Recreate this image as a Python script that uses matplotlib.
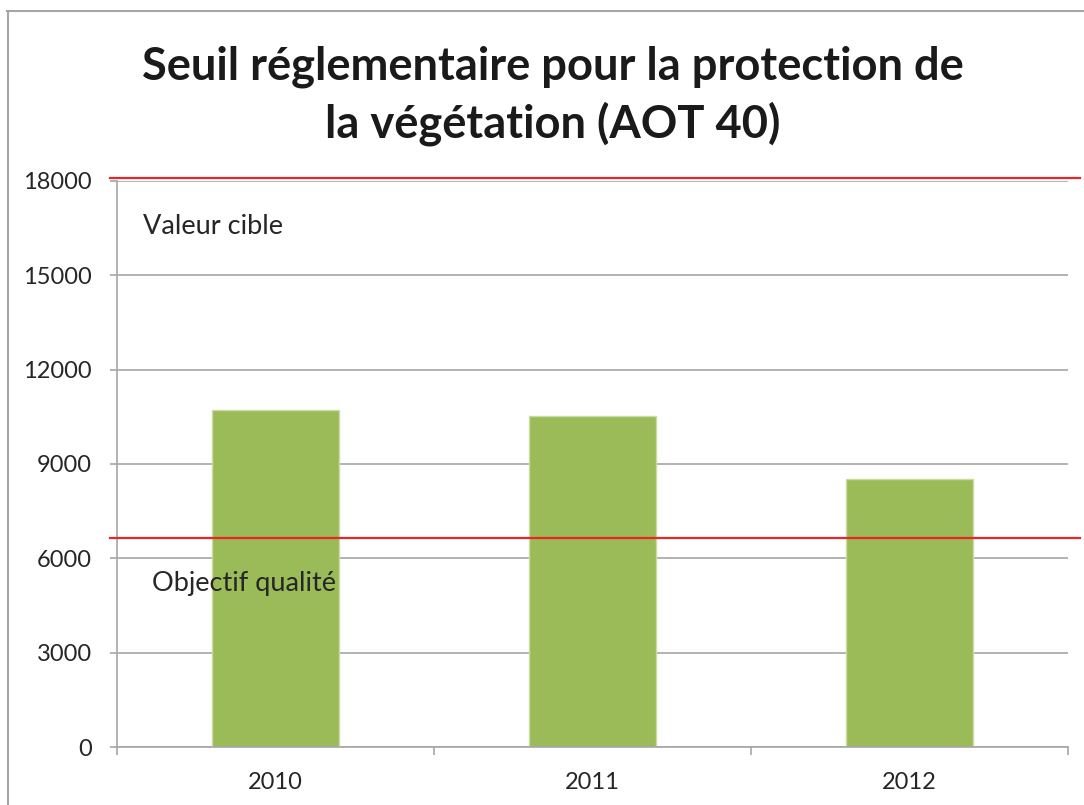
import matplotlib
matplotlib.use("Agg")
import matplotlib.pyplot as plt
from matplotlib.lines import Line2D
from matplotlib.ticker import FixedLocator, NullFormatter

# ---- data ----
years = ["2010", "2011", "2012"]
aot40 = [10720, 10530, 8520]
valeur_cible = 18100
objectif_qualite = 6640
y_ticks = [0, 3000, 6000, 9000, 12000, 15000, 18000]
title_lines = ["Seuil réglementaire pour la protection de", "la végétation (AOT 40)"]
label_cible = "Valeur cible"
label_objectif = "Objectif qualité"

plt.rcParams['font.family'] = ['Lato', 'DejaVu Sans']

W, H = 1084, 805
fig = plt.figure(figsize=(W / 100, H / 100), dpi=100)
fig.patch.set_facecolor('white')

ax = fig.add_axes([117 / W, 1 - 747 / H, (1068 - 117) / W, (747 - 181) / H])

grey = '#A6A6A6'
txt = '#262626'

x = list(range(len(years)))
ax.bar(x, aot40, width=0.4, color='#9BBB59', edgecolor='#C9DCA6', linewidth=1.0, zorder=2)

ax.set_xlim(-0.5, len(years) - 0.5)
ax.set_ylim(y_ticks[0], y_ticks[-1])
ax.set_yticks(y_ticks)
ax.set_yticklabels([str(v) for v in y_ticks])

ax.yaxis.grid(True, color=grey, linewidth=1.2, zorder=0)
ax.set_axisbelow(True)

# x ticks: boundaries as major (marks), centers as minor (labels)
ax.xaxis.set_major_locator(FixedLocator([i - 0.5 for i in range(len(years) + 1)]))
ax.xaxis.set_major_formatter(NullFormatter())
ax.xaxis.set_minor_locator(FixedLocator(x))
ax.set_xticklabels(years, minor=True)
ax.tick_params(axis='x', which='major', direction='out', length=6, width=1.2, color=grey)
ax.tick_params(axis='x', which='minor', length=0, pad=18, labelsize=17, labelcolor=txt)
ax.tick_params(axis='y', direction='out', length=5, width=1.2, color=grey, pad=13,
               labelsize=17, labelcolor=txt)

for s in ['top', 'right']:
    ax.spines[s].set_visible(False)
for s in ['left', 'bottom']:
    ax.spines[s].set_color(grey)
    ax.spines[s].set_linewidth(1.2)

# threshold lines
x0 = (110 - 117) / (1068 - 117)
x1 = (1080 - 117) / (1068 - 117)
for v in [valeur_cible, objectif_qualite]:
    ax.axhline(v, xmin=x0, xmax=x1, color='#E8262B', linewidth=1.6, clip_on=False, zorder=3)

trans = ax.get_yaxis_transform()
ax.text((143 - 117) / 951, 16305, label_cible, transform=trans, fontsize=19.5,
        color=txt, va='baseline', ha='left', zorder=4)
ax.text((152 - 117) / 951, 4971, label_objectif, transform=trans, fontsize=19.5,
        color=txt, va='baseline', ha='left', zorder=4)

# title
fig.text(553 / W, 1 - 80 / H, title_lines[0], ha='center', va='baseline',
         fontsize=32.6, fontweight='bold', color='#1a1a1a')
fig.text(553 / W, 1 - 137 / H, title_lines[1], ha='center', va='baseline',
         fontsize=32.6, fontweight='bold', color='#1a1a1a')

# chart frame (cropped)
fig.add_artist(Line2D([7.5 / W, 7.5 / W], [1 - 11 / H, 0], transform=fig.transFigure,
                      color=grey, linewidth=1.5))
fig.add_artist(Line2D([7 / W, 1], [1 - 11.5 / H, 1 - 11.5 / H], transform=fig.transFigure,
                      color=grey, linewidth=1.5))

fig.savefig('out.png', dpi=100, facecolor='white')
